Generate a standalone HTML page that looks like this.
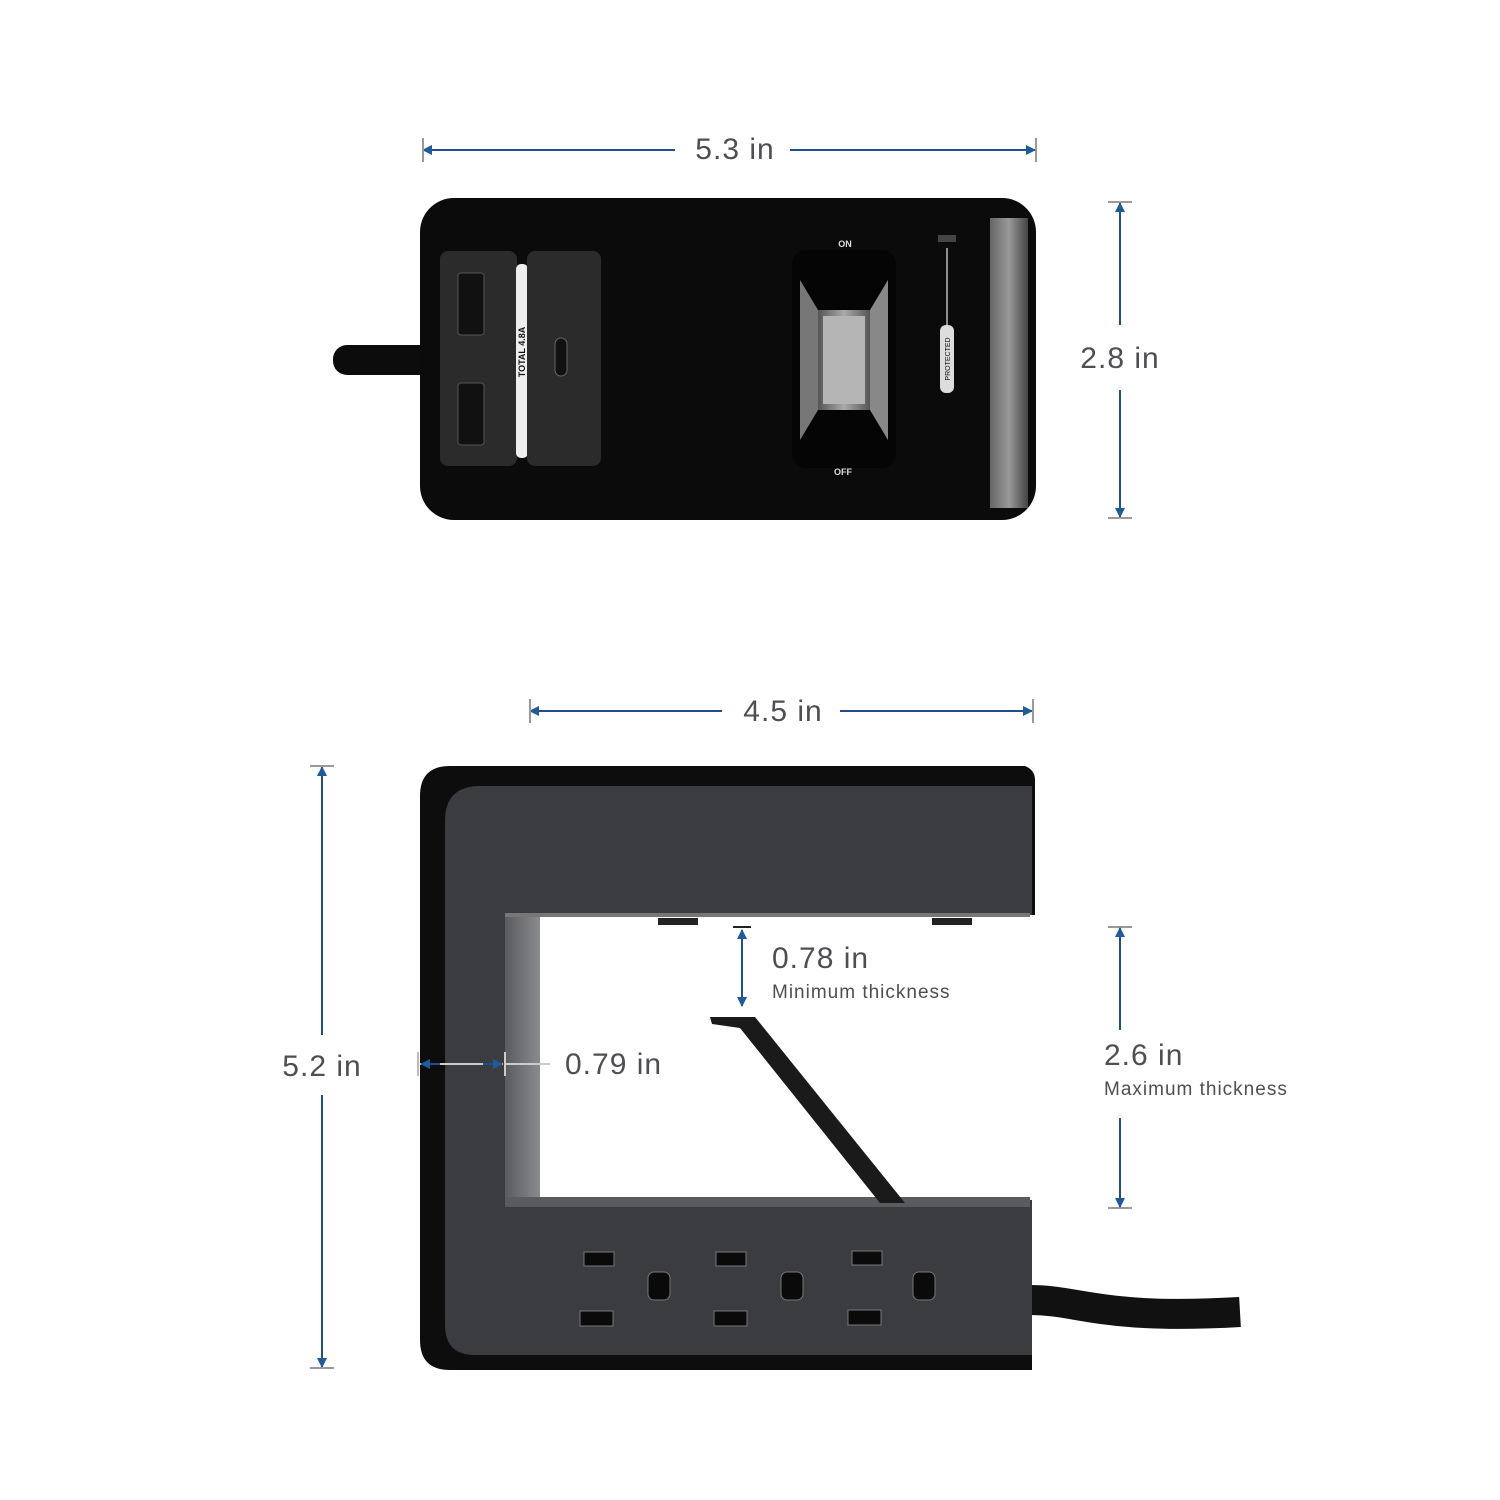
<!DOCTYPE html>
<html><head><meta charset="utf-8"><style>
html,body{margin:0;padding:0;background:#fff}
svg{display:block}
text{font-family:"Liberation Sans",sans-serif;fill:#4d4f52}
</style></head><body>
<svg width="1500" height="1500" viewBox="0 0 1500 1500" xmlns="http://www.w3.org/2000/svg">
<defs>
<marker id="ah" viewBox="0 0 10 10" refX="9" refY="5" markerWidth="5" markerHeight="5" orient="auto-start-reverse"><path d="M0,0 L10,5 L0,10 z" fill="#1f5a9a"/></marker>
<linearGradient id="lev" x1="0" x2="1"><stop offset="0" stop-color="#555"/><stop offset="0.5" stop-color="#aaa"/><stop offset="1" stop-color="#555"/></linearGradient>
<linearGradient id="edge" x1="0" x2="1"><stop offset="0" stop-color="#666"/><stop offset="0.5" stop-color="#999"/><stop offset="1" stop-color="#444"/></linearGradient>
<linearGradient id="inner" x1="0" x2="1"><stop offset="0" stop-color="#5a5b5e"/><stop offset="1" stop-color="#8a8b8e"/></linearGradient>
</defs>

<!-- TOP VIEW -->
<line x1="423" y1="150" x2="675" y2="150" stroke="#1f4e89" stroke-width="2" marker-start="url(#ah)"/>
<line x1="790" y1="150" x2="1035" y2="150" stroke="#1f4e89" stroke-width="2" marker-end="url(#ah)"/>
<line x1="423" y1="138" x2="423" y2="162" stroke="#999" stroke-width="2"/>
<line x1="1036" y1="138" x2="1036" y2="162" stroke="#999" stroke-width="2"/>
<text x="735" y="159" font-size="30" text-anchor="middle" letter-spacing="1">5.3 in</text>

<line x1="1120" y1="203" x2="1120" y2="325" stroke="#1f4e89" stroke-width="2" marker-start="url(#ah)"/>
<line x1="1120" y1="390" x2="1120" y2="517" stroke="#1f4e89" stroke-width="2" marker-end="url(#ah)"/>
<line x1="1108" y1="202" x2="1132" y2="202" stroke="#999" stroke-width="2"/>
<line x1="1108" y1="518" x2="1132" y2="518" stroke="#999" stroke-width="2"/>
<text x="1120" y="368" font-size="30" text-anchor="middle" letter-spacing="1">2.8 in</text>

<rect x="333" y="345" width="100" height="30" rx="14" fill="#0c0c0c"/>
<rect x="420" y="198" width="616" height="322" rx="34" fill="#0b0b0b"/>
<rect x="990" y="218" width="38" height="290" fill="url(#edge)"/>
<rect x="440" y="251" width="77" height="215" rx="8" fill="#2b2b2c"/>
<rect x="516" y="264" width="12" height="194" rx="5" fill="#eee"/>
<text transform="translate(525,352) rotate(-90)" font-size="9" font-weight="bold" style="fill:#111" text-anchor="middle">TOTAL 4.8A</text>
<rect x="527" y="251" width="74" height="215" rx="8" fill="#2b2b2c"/>
<rect x="458" y="273" width="26" height="62" rx="3" fill="#111" stroke="#555"/>
<rect x="458" y="383" width="26" height="62" rx="3" fill="#111" stroke="#555"/>
<rect x="555" y="338" width="12" height="38" rx="6" fill="#111" stroke="#666"/>
<rect x="792" y="250" width="104" height="218" rx="14" fill="#050505"/>
<polygon points="800,280 818,310 818,410 800,440" fill="#777"/>
<polygon points="888,280 870,310 870,410 888,440" fill="#888"/>
<rect x="818" y="310" width="52" height="100" fill="url(#lev)"/>
<rect x="823" y="316" width="42" height="88" fill="#b5b5b5"/>
<text x="845" y="247" font-size="9" font-weight="bold" style="fill:#ddd" text-anchor="middle">ON</text>
<text x="843" y="475" font-size="9" font-weight="bold" style="fill:#ddd" text-anchor="middle">OFF</text>
<rect x="938" y="235" width="18" height="7" fill="#444"/>
<line x1="947" y1="248" x2="947" y2="325" stroke="#bbb" stroke-width="1.5"/>
<rect x="940" y="325" width="14" height="68" rx="6" fill="#ddd"/>
<text transform="translate(950,359) rotate(-90)" font-size="7" style="fill:#111" text-anchor="middle">PROTECTED</text>

<!-- SIDE VIEW -->
<line x1="530" y1="711" x2="722" y2="711" stroke="#1f4e89" stroke-width="2" marker-start="url(#ah)"/>
<line x1="840" y1="711" x2="1032" y2="711" stroke="#1f4e89" stroke-width="2" marker-end="url(#ah)"/>
<line x1="530" y1="699" x2="530" y2="723" stroke="#999" stroke-width="2"/>
<line x1="1033" y1="699" x2="1033" y2="723" stroke="#999" stroke-width="2"/>
<text x="783" y="721" font-size="30" text-anchor="middle" letter-spacing="1">4.5 in</text>

<line x1="322" y1="767" x2="322" y2="1035" stroke="#1f4e89" stroke-width="2" marker-start="url(#ah)"/>
<line x1="322" y1="1095" x2="322" y2="1367" stroke="#1f4e89" stroke-width="2" marker-end="url(#ah)"/>
<line x1="310" y1="766" x2="334" y2="766" stroke="#999" stroke-width="2"/>
<line x1="310" y1="1368" x2="334" y2="1368" stroke="#999" stroke-width="2"/>
<text x="322" y="1076" font-size="30" text-anchor="middle" letter-spacing="1">5.2 in</text>

<!-- cable right -->
<path d="M1030,1300 C1080,1300 1100,1320 1240,1312" stroke="#111" stroke-width="30" fill="none"/>
<!-- C body -->
<path d="M450,766 L1025,766 Q1035,770 1035,780 L1035,915 L540,915 L540,1200 L1032,1200 L1032,1370 L450,1370 Q420,1370 420,1340 L420,796 Q420,766 450,766 Z" fill="#0d0d0d"/>
<path d="M480,786 L1032,786 L1032,915 L505,915 L505,1200 L1032,1200 L1032,1355 L475,1355 Q445,1355 445,1325 L445,821 Q445,786 480,786 Z" fill="#3b3c3f"/>
<rect x="505" y="915" width="35" height="285" fill="url(#inner)"/>
<rect x="505" y="913" width="525" height="4" fill="#777"/>
<rect x="505" y="1197" width="525" height="10" fill="#5a5b5e"/>
<rect x="540" y="917" width="490" height="280" fill="#fff"/>
<rect x="658" y="918" width="40" height="7" fill="#222"/>
<rect x="932" y="918" width="40" height="7" fill="#222"/>
<!-- stand arm -->
<polygon points="710,1017 755,1017 905,1203 880,1203 740,1028 712,1024" fill="#1a1a1a"/>
<!-- outlets -->
<g fill="#0a0a0a" stroke="#777" stroke-width="1">
<rect x="584" y="1252" width="30" height="14"/><rect x="716" y="1252" width="30" height="14"/><rect x="852" y="1251" width="30" height="14"/>
<rect x="580" y="1311" width="33" height="15"/><rect x="714" y="1311" width="33" height="15"/><rect x="848" y="1310" width="33" height="15"/>
<rect x="648" y="1272" width="22" height="28" rx="6"/><rect x="781" y="1272" width="22" height="28" rx="6"/><rect x="913" y="1272" width="22" height="28" rx="6"/>
</g>

<!-- 0.78 -->
<line x1="733" y1="927" x2="751" y2="927" stroke="#222" stroke-width="2"/>
<line x1="742" y1="930" x2="742" y2="1006" stroke="#1f4e89" stroke-width="2" marker-start="url(#ah)" marker-end="url(#ah)"/>
<text x="772" y="968" font-size="30" letter-spacing="1">0.78 in</text>
<text x="772" y="998" font-size="19" letter-spacing="1">Minimum thickness</text>

<!-- 2.6 -->
<line x1="1108" y1="927" x2="1132" y2="927" stroke="#999" stroke-width="2"/>
<line x1="1108" y1="1208" x2="1132" y2="1208" stroke="#999" stroke-width="2"/>
<line x1="1120" y1="928" x2="1120" y2="1030" stroke="#1f4e89" stroke-width="2" marker-start="url(#ah)"/>
<line x1="1120" y1="1118" x2="1120" y2="1207" stroke="#1f4e89" stroke-width="2" marker-end="url(#ah)"/>
<text x="1104" y="1065" font-size="30" letter-spacing="1">2.6 in</text>
<text x="1104" y="1095" font-size="19" letter-spacing="1">Maximum thickness</text>

<!-- 0.79 -->
<line x1="418" y1="1052" x2="418" y2="1076" stroke="#bbb" stroke-width="2"/>
<line x1="505" y1="1052" x2="505" y2="1076" stroke="#ccc" stroke-width="2"/>
<line x1="420" y1="1064" x2="503" y2="1064" stroke="#ccc" stroke-width="2"/>
<line x1="421" y1="1064" x2="440" y2="1064" stroke="#1f4e89" stroke-width="2" marker-start="url(#ah)"/>
<line x1="483" y1="1064" x2="502" y2="1064" stroke="#1f4e89" stroke-width="2" marker-end="url(#ah)"/>
<line x1="505" y1="1064" x2="550" y2="1064" stroke="#ccc" stroke-width="2"/>
<text x="565" y="1074" font-size="30" letter-spacing="1">0.79 in</text>
</svg>
</body></html>
